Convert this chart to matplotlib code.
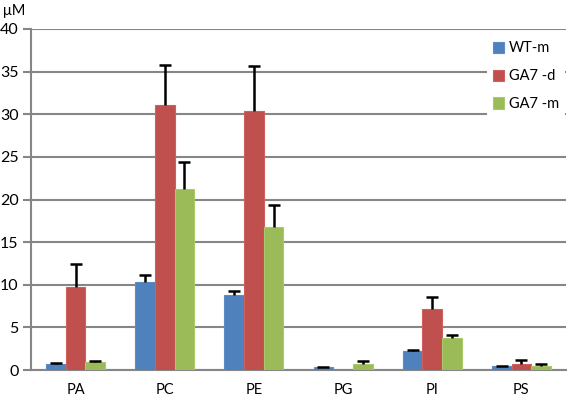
import numpy as np
import matplotlib.pyplot as plt

plt.rcParams['font.family'] = ['Lato', 'DejaVu Sans']

# data
lipids = ['PA', 'PC', 'PE', 'PG', 'PI', 'PS']
series = ['WT-m', 'GA7 -d', 'GA7 -m']
wt_m = [0.74, 10.3, 8.8, 0.3, 2.2, 0.43]
wt_m_err = [0.08, 0.8, 0.45, 0.05, 0.12, 0.05]
ga7_d = [9.7, 31.1, 30.4, 0.0, 7.1, 0.67]
ga7_d_err = [2.7, 4.7, 5.3, 0.0, 1.45, 0.45]
ga7_m = [0.94, 21.2, 16.8, 0.74, 3.8, 0.5]
ga7_m_err = [0.16, 3.2, 2.6, 0.36, 0.3, 0.17]

colors = ['#4F81BD', '#C0504D', '#9BBB59']
edges = ['#5B8CC6', '#D0605D', '#A9C96A']

fig = plt.figure(figsize=(5.67, 3.95), dpi=100)
ax = fig.add_axes([31/567, 1-370/395, 535/567, 341/395])

x = np.arange(len(lipids))
w = 0.22
vals = [wt_m, ga7_d, ga7_m]
errs = [wt_m_err, ga7_d_err, ga7_m_err]
for i in range(3):
    pos = x + (i-1)*w
    ax.bar(pos, vals[i], w, color=colors[i], edgecolor=edges[i], linewidth=0.8,
           label=series[i], zorder=3)
    v = np.array(vals[i])
    e = np.array(errs[i])
    m = e > 0
    eb = ax.errorbar(pos[m], v[m], yerr=[np.zeros(m.sum()), e[m]], fmt='none',
                     ecolor='black', elinewidth=1.8, capsize=4, capthick=1.8, zorder=4)
    # only the upper cap (plus-only error bars)
    eb[1][0].set_visible(False)

ax.set_xlim(-0.5, len(lipids)-0.5)
ax.set_ylim(0, 40)
ax.set_yticks(np.arange(0, 41, 5))
ax.set_xticks(x)
ax.set_xticklabels(lipids)
ax.yaxis.grid(True, color='#868686', linewidth=1.5, zorder=0)
ax.set_axisbelow(True)
for s in ['top', 'right']:
    ax.spines[s].set_visible(False)
ax.spines['left'].set_color('#868686')
ax.spines['left'].set_linewidth(1.5)
ax.spines['bottom'].set_color('#868686')
ax.spines['bottom'].set_linewidth(1.5)
ax.tick_params(axis='y', length=6, width=1.5, color='#868686', labelsize=11.5, pad=3)
ax.tick_params(axis='x', length=0, labelsize=10.5, pad=9)

fig.text(3/567, 1-11/395, 'μM', fontsize=10.5, va='center', ha='left')

leg = ax.legend(loc='upper right', bbox_to_anchor=(1.0, 0.985), frameon=True,
                fontsize=10.5, handlelength=0.8, handleheight=0.8, handletextpad=0.3,
                labelspacing=0.95, borderpad=0.4, borderaxespad=0.1)
leg.get_frame().set_edgecolor('none')
leg.get_frame().set_facecolor('white')
leg.get_frame().set_alpha(1)

fig.savefig('out.png', dpi=100)
